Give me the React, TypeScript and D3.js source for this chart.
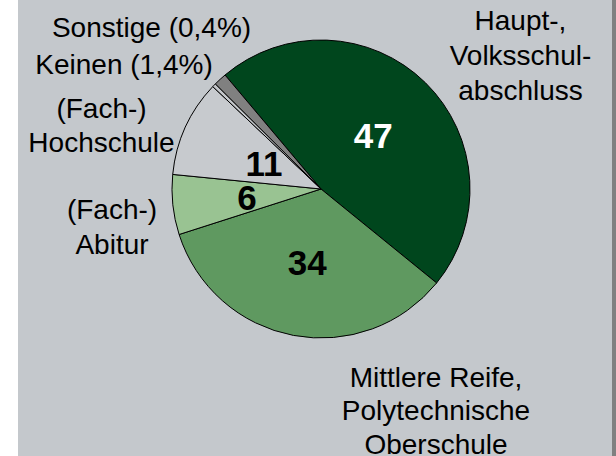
import React from "react";
import * as d3 from "d3";

// ---- data ----
const categories = [
  "Haupt-, Volksschulabschluss",
  "Mittlere Reife, Polytechnische Oberschule",
  "(Fach-) Abitur",
  "(Fach-) Hochschule",
  "Sonstige",
  "Keinen",
];
const shares = [47.0, 34.2, 6.5, 10.5, 0.4, 1.4];
const valueLabels = ["47", "34", "6", "11", "", ""];
const categoryLines = [
  ["Haupt-,", "Volksschul-", "abschluss"],
  ["Mittlere Reife,", "Polytechnische", "Oberschule"],
  ["(Fach-)", "Abitur"],
  ["(Fach-)", "Hochschule"],
  ["Sonstige (0,4%)"],
  ["Keinen (1,4%)"],
];

// ---- styles / layout ----
const sliceColors = ["#00461d", "#5f9960", "#99c392", "#c7cace", "#c4c7cb", "#808080"];
const valueColors = ["#ffffff", "#000000", "#000000", "#000000", "#000000", "#000000"];
const valueRadiusFactor = [1, 1, 1, 0.843, 1, 1];
const labelAnchors = [
  { x: 520.5, y: 29.5, gap: 35 },
  { x: 436, y: 386.5, gap: 33.8 },
  { x: 112, y: 218.5, gap: 35 },
  { x: 101.5, y: 117.5, gap: 34.5 },
  { x: 151.5, y: 36.5, gap: 35 },
  { x: 124, y: 73.5, gap: 35 },
];

const W = 616;
const H = 456;
const cx = 321;
const cy = 189;
const R = 149;
const startDeg = -40.1;
const font = "'Liberation Sans', Arial, Helvetica, sans-serif";

export default function App() {
  const pie = d3
    .pie<number>()
    .sort(null)
    .value((d) => d)
    .startAngle((startDeg * Math.PI) / 180)
    .endAngle((startDeg * Math.PI) / 180 + 2 * Math.PI);
  const arcs = pie(shares);
  const arc = d3.arc<d3.PieArcDatum<number>>().innerRadius(0).outerRadius(R);

  return (
    <div style={{ position: "fixed", left: 0, top: 0, width: W, height: H }}>
      <svg width={W} height={H} style={{ display: "block" }}>
        <rect x={0} y={0} width={W} height={H} fill="#ffffff" />
        <rect x={18} y={0} width={594} height={H} fill="#c4c8cc" />
        <rect x={612} y={0} width={4} height={H} fill="#808080" />
        <g transform={`translate(${cx},${cy})`}>
          {arcs.map((a, i) => (
            <path
              key={categories[i]}
              d={arc(a) || ""}
              fill={sliceColors[i]}
              stroke="#000000"
              strokeWidth={1}
              strokeLinejoin="round"
            />
          ))}
          {arcs.map((a, i) => {
            if (!valueLabels[i]) return null;
            const la = d3
              .arc<d3.PieArcDatum<number>>()
              .innerRadius(0)
              .outerRadius(R * valueRadiusFactor[i]);
            const [lx, ly] = la.centroid(a);
            return (
              <text
                key={"v" + i}
                x={lx}
                y={ly}
                dy="0.36em"
                textAnchor="middle"
                fontFamily={font}
                fontWeight="bold"
                fontSize={35}
                fill={valueColors[i]}
              >
                {valueLabels[i]}
              </text>
            );
          })}
        </g>
        {categoryLines.map((lines, i) => (
          <text
            key={"c" + i}
            textAnchor="middle"
            fontFamily={font}
            fontSize={28}
            fill="#000000"
          >
            {lines.map((ln, j) => (
              <tspan
                key={j}
                x={labelAnchors[i].x}
                y={labelAnchors[i].y + j * labelAnchors[i].gap}
              >
                {ln}
              </tspan>
            ))}
          </text>
        ))}
      </svg>
    </div>
  );
}
